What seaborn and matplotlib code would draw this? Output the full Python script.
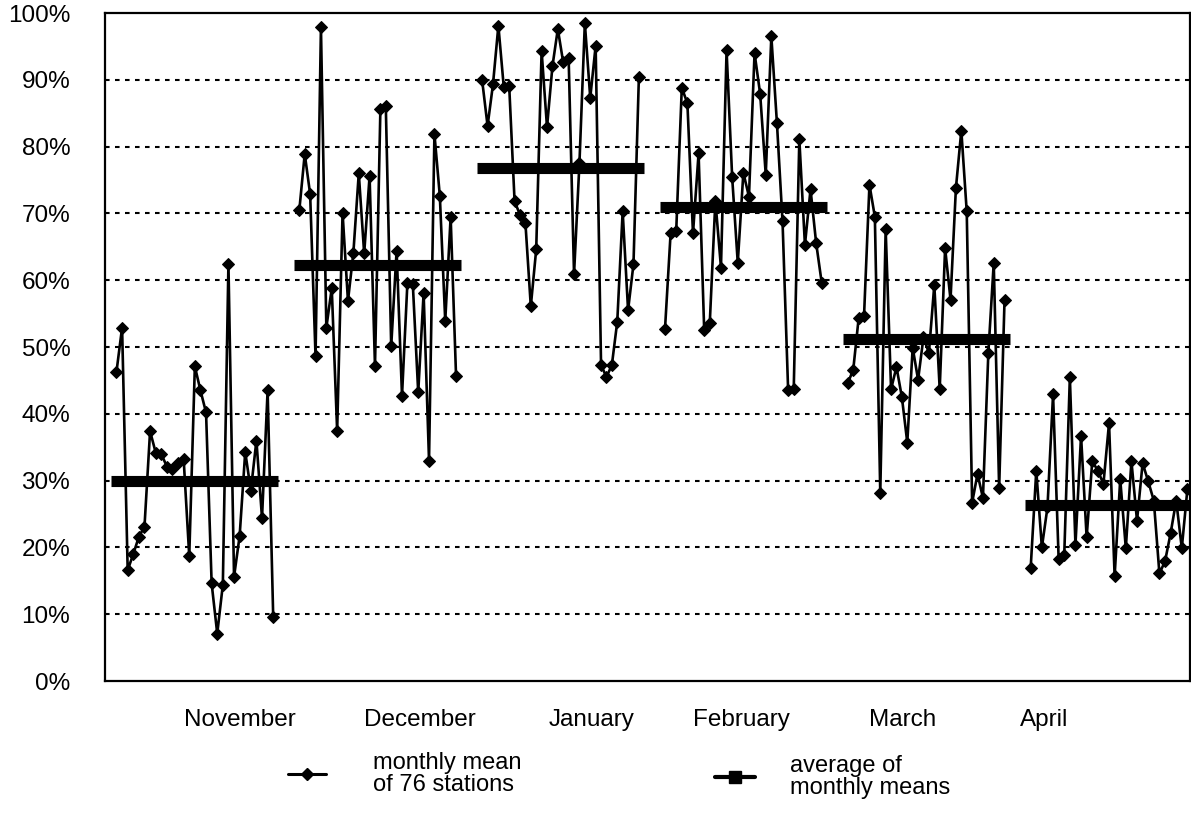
import numpy as np
import pandas as pd
import matplotlib
matplotlib.use("Agg")
import matplotlib.pyplot as plt
from matplotlib.lines import Line2D
import seaborn as sns

# ---------------- data ----------------
months = ["November", "December", "January", "February", "March", "April"]

nov = [46.3, 52.9, 16.6, 19.0, 21.6, 23.1, 37.4, 34.2, 34.0, 32.1, 31.7, 32.7, 33.2,
       18.7, 47.1, 43.5, 40.2, 14.6, 7.1, 14.4, 62.5, 15.6, 21.7, 34.3, 28.5, 36.0,
       24.4, 43.5, 9.6]
dec = [70.5, 78.9, 72.9, 48.6, 97.9, 52.9, 58.8, 37.4, 70.1, 56.9, 64.1, 76.0, 64.0,
       75.6, 47.1, 85.6, 86.1, 50.1, 64.4, 42.7, 59.6, 59.4, 43.2, 58.1, 33.0, 81.9,
       72.6, 53.9, 69.5, 45.7]
jan = [89.9, 83.1, 89.3, 98.1, 88.9, 89.1, 71.8, 69.8, 68.6, 56.1, 64.6, 94.3, 82.9,
       92.0, 97.6, 92.6, 93.3, 60.9, 77.5, 98.5, 87.3, 95.1, 47.3, 45.5, 47.3, 53.8,
       70.3, 55.5, 62.4, 90.4]
feb = [52.7, 67.0, 67.3, 88.8, 86.5, 67.0, 79.0, 52.6, 53.6, 71.9, 61.9, 94.4, 75.4,
       62.6, 76.1, 72.5, 94.0, 87.9, 75.8, 96.5, 83.5, 68.8, 43.5, 43.7, 81.1, 65.3,
       73.6, 65.6, 59.6]
mar = [44.6, 46.6, 54.3, 54.7, 74.3, 69.5, 28.2, 67.6, 43.7, 47.0, 42.5, 35.7, 49.9,
       45.1, 51.5, 49.1, 59.3, 43.7, 64.8, 57.1, 73.8, 82.4, 70.3, 26.7, 31.0, 27.4,
       49.1, 62.6, 28.9, 57.1]
apr = [16.9, 31.5, 20.0, 26.0, 42.9, 18.2, 18.9, 45.5, 20.4, 36.7, 21.5, 32.9, 31.5,
       29.5, 38.6, 15.7, 30.2, 19.9, 32.9, 24.0, 32.6, 29.9, 27.0, 16.1, 17.9, 22.1,
       27.0, 19.9, 28.7]

monthly_average = [30.0, 62.3, 76.8, 71.0, 51.2, 26.3]

y_ticks = [0, 10, 20, 30, 40, 50, 60, 70, 80, 90, 100]
legend_labels = ["monthly mean\nof 76 stations", "average of\nmonthly means"]

# ---------------- layout constants ----------------
MONTH_PERIOD = 35          # slots per month block
MONTH_SPAN = 30            # slots occupied by the points of one month
AVG_START, AVG_END = -1.0, 31.0
label_pos = [23.6, 58.0, 90.9, 119.6, 150.4, 177.5]

series = [nov, dec, jan, feb, mar, apr]
rows = []
for k, (m, vals) in enumerate(zip(months, series)):
    xs = np.linspace(MONTH_PERIOD * k, MONTH_PERIOD * k + MONTH_SPAN, len(vals))
    for x, v in zip(xs, vals):
        rows.append({"month": m, "x": x, "value": v})
df = pd.DataFrame(rows)

avg_rows = []
for k, (m, a) in enumerate(zip(months, monthly_average)):
    for off in (AVG_START, AVG_END):
        avg_rows.append({"month": m, "x": MONTH_PERIOD * k + off, "value": a})
df_avg = pd.DataFrame(avg_rows)

# ---------------- figure ----------------
sns.set_theme(style="white")
plt.rcParams["font.family"] = ["Liberation Sans", "DejaVu Sans"]
plt.rcParams["text.color"] = "black"

fig = plt.figure(figsize=(11.91, 8.39), dpi=100)
ax = fig.add_axes([105 / 1191, 1 - 681 / 839, 1085 / 1191, 668 / 839])

sns.lineplot(data=df, x="x", y="value", units="month", estimator=None,
             color="black", linewidth=1.9, marker="D", markersize=6,
             markeredgecolor="black", markerfacecolor="black", ax=ax, zorder=3)
sns.lineplot(data=df_avg, x="x", y="value", units="month", estimator=None,
             color="black", linewidth=8, solid_capstyle="butt", ax=ax, zorder=4)

ax.set_xlim(-2.2, 205.5)
ax.set_ylim(0, 100)
ax.set_yticks(y_ticks)
ax.set_yticklabels([f"{t}%" for t in y_ticks])
ax.set_xticks(label_pos)
ax.set_xticklabels(months)
ax.set_xlabel("")
ax.set_ylabel("")
ax.tick_params(axis="both", length=0, labelsize=17.5, colors="black")
ax.tick_params(axis="y", pad=25)
ax.tick_params(axis="x", pad=20)

for s in ax.spines.values():
    s.set_color("black")
    s.set_linewidth(1.6)
    s.set_visible(True)

for t in y_ticks[1:-1]:
    ax.axhline(t, color="black", linewidth=1.5, linestyle=(0, (2.2, 2.6)), zorder=1)

# ---------------- legends ----------------
h1 = Line2D([], [], color="black", linewidth=2.2, marker="D", markersize=6)
h2 = Line2D([], [], color="black", linewidth=3.0, marker="s", markersize=8)
leg1 = fig.legend([h1], [legend_labels[0]], loc="center left",
                  bbox_to_anchor=(276 / 1191, 1 - 774 / 839), frameon=False,
                  fontsize=17, handlelength=1.6, handletextpad=2.0, borderpad=0,
                  labelspacing=0)
leg2 = fig.legend([h2], [legend_labels[1]], loc="center left",
                  bbox_to_anchor=(703 / 1191, 1 - 777 / 839), frameon=False,
                  fontsize=17, handlelength=1.7, handletextpad=1.5, borderpad=0,
                  labelspacing=0)
for lg in (leg1, leg2):
    for txt in lg.get_texts():
        txt.set_linespacing(1.0)
        txt.set_color("black")

fig.savefig("out.png", dpi=100)
